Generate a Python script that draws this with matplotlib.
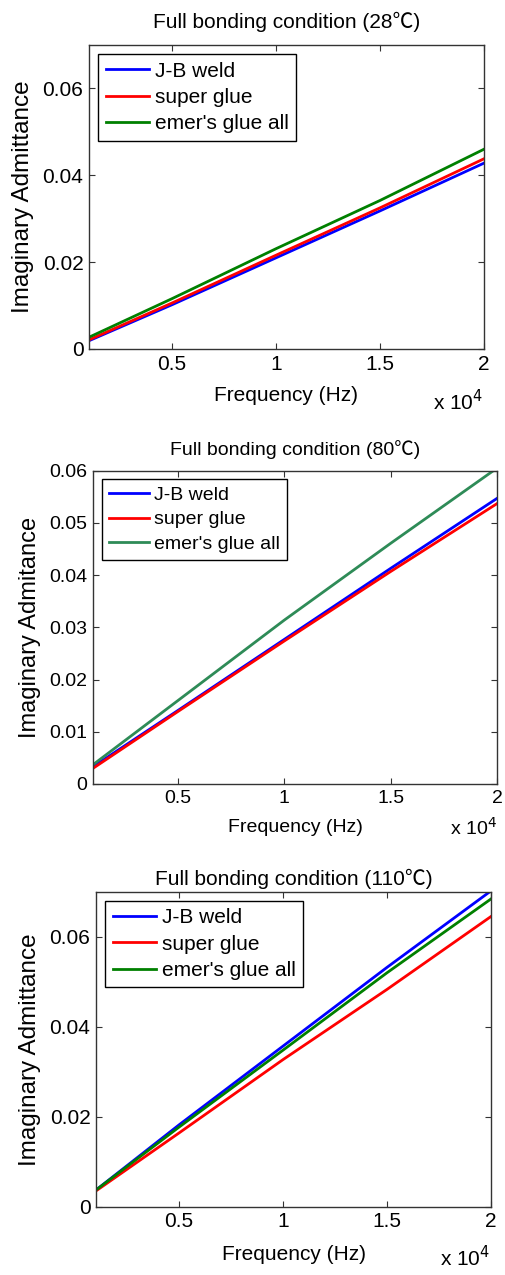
import numpy as np
import matplotlib
matplotlib.use('Agg')
from matplotlib import pyplot as plt

plt.rcParams['font.family'] = ['Liberation Sans', 'Noto Sans CJK SC', 'DejaVu Sans']

# frequency points (Hz)
freq = [1000, 5000, 10000, 15000, 20000]

# 28 C
jb_28 = [0.0019, 0.0102, 0.0210, 0.0318, 0.0428]
super_28 = [0.0021, 0.0106, 0.0216, 0.0325, 0.0438]
emer_28 = [0.0027, 0.0116, 0.0231, 0.0342, 0.0460]

# 80 C
jb_80 = [0.0033, 0.0141, 0.0277, 0.0413, 0.0547]
super_80 = [0.0030, 0.0139, 0.0274, 0.0407, 0.0537]
emer_80 = [0.0037, 0.0160, 0.0314, 0.0461, 0.0605]

# 110 C
jb_110 = [0.0037, 0.0182, 0.0357, 0.0532, 0.0702]
super_110 = [0.0035, 0.0164, 0.0327, 0.0483, 0.0645]
emer_110 = [0.0037, 0.0177, 0.0348, 0.0520, 0.0684]

labels = ['J-B weld', 'super glue', "emer's glue all"]

panels = [
    dict(title='Full bonding condition (28\u2103)', series=[jb_28, super_28, emer_28],
         green='#008000', ylim=0.07, yticks=[0, 0.02, 0.04, 0.06],
         ylabel='Imaginary Admittance', fs=15, yfs=17.5, xpad=9,
         rect=[0.1759, 0.7263, 0.7806, 0.2384], pad=12, off=(0.955, 0.675)),
    dict(title='Full bonding condition (80\u2103)', series=[jb_80, super_80, emer_80],
         green='#2e8b57', ylim=0.06, yticks=[0, 0.01, 0.02, 0.03, 0.04, 0.05, 0.06],
         ylabel='Imaginary Admitance', fs=14, yfs=17, xpad=9,
         rect=[0.1838, 0.3851, 0.7984, 0.2457], pad=11, off=(0.982, 0.342)),
    dict(title='Full bonding condition (110\u2103)', series=[jb_110, super_110, emer_110],
         green='#008000', ylim=0.07, yticks=[0, 0.02, 0.04, 0.06],
         ylabel='Imaginary Admittance', fs=15, yfs=17.5, xpad=10,
         rect=[0.1897, 0.0536, 0.7807, 0.2470], pad=5, off=(0.968, 0.004)),
]

fig = plt.figure(figsize=(5.06, 12.75), dpi=100)

for p in panels:
    ax = fig.add_axes(p['rect'])
    colors = ['#0000ff', '#ff0000', p['green']]
    for vals, lab, c in zip(p['series'], labels, colors):
        ax.plot(freq, vals, color=c, lw=2, label=lab)
    ax.set_xlim(1000, 20000)
    ax.set_ylim(0, p['ylim'])
    ax.set_xticks([5000, 10000, 15000, 20000])
    ax.set_xticklabels(['0.5', '1', '1.5', '2'])
    ax.set_yticks(p['yticks'])
    ax.set_yticklabels(['0' if t == 0 else '%g' % t for t in p['yticks']])
    ax.tick_params(direction='in', length=4, top=True, right=True,
                   labelsize=p['fs'], color='#333333', pad=4)
    for s in ax.spines.values():
        s.set_color('#333333')
        s.set_linewidth(1)
    ax.set_xlabel('Frequency (Hz)', fontsize=p['fs'], labelpad=p['xpad'])
    ax.set_ylabel(p['ylabel'], fontsize=p['yfs'], labelpad=6)
    ax.set_title(p['title'], fontsize=p['fs'], pad=p['pad'])
    leg = ax.legend(loc='upper left', fontsize=p['fs'], fancybox=False,
                    edgecolor='black', framealpha=1, handlelength=2.1,
                    handletextpad=0.25, labelspacing=0.35, borderaxespad=0.45,
                    borderpad=0.35)
    leg.get_frame().set_linewidth(1)
    # offset label drawn as text, MATLAB-style
    fig.text(p['off'][0], p['off'][1], r'x 10$^4$', ha='right', va='bottom',
             fontsize=p['fs'])

fig.savefig('out.png', dpi=100)
